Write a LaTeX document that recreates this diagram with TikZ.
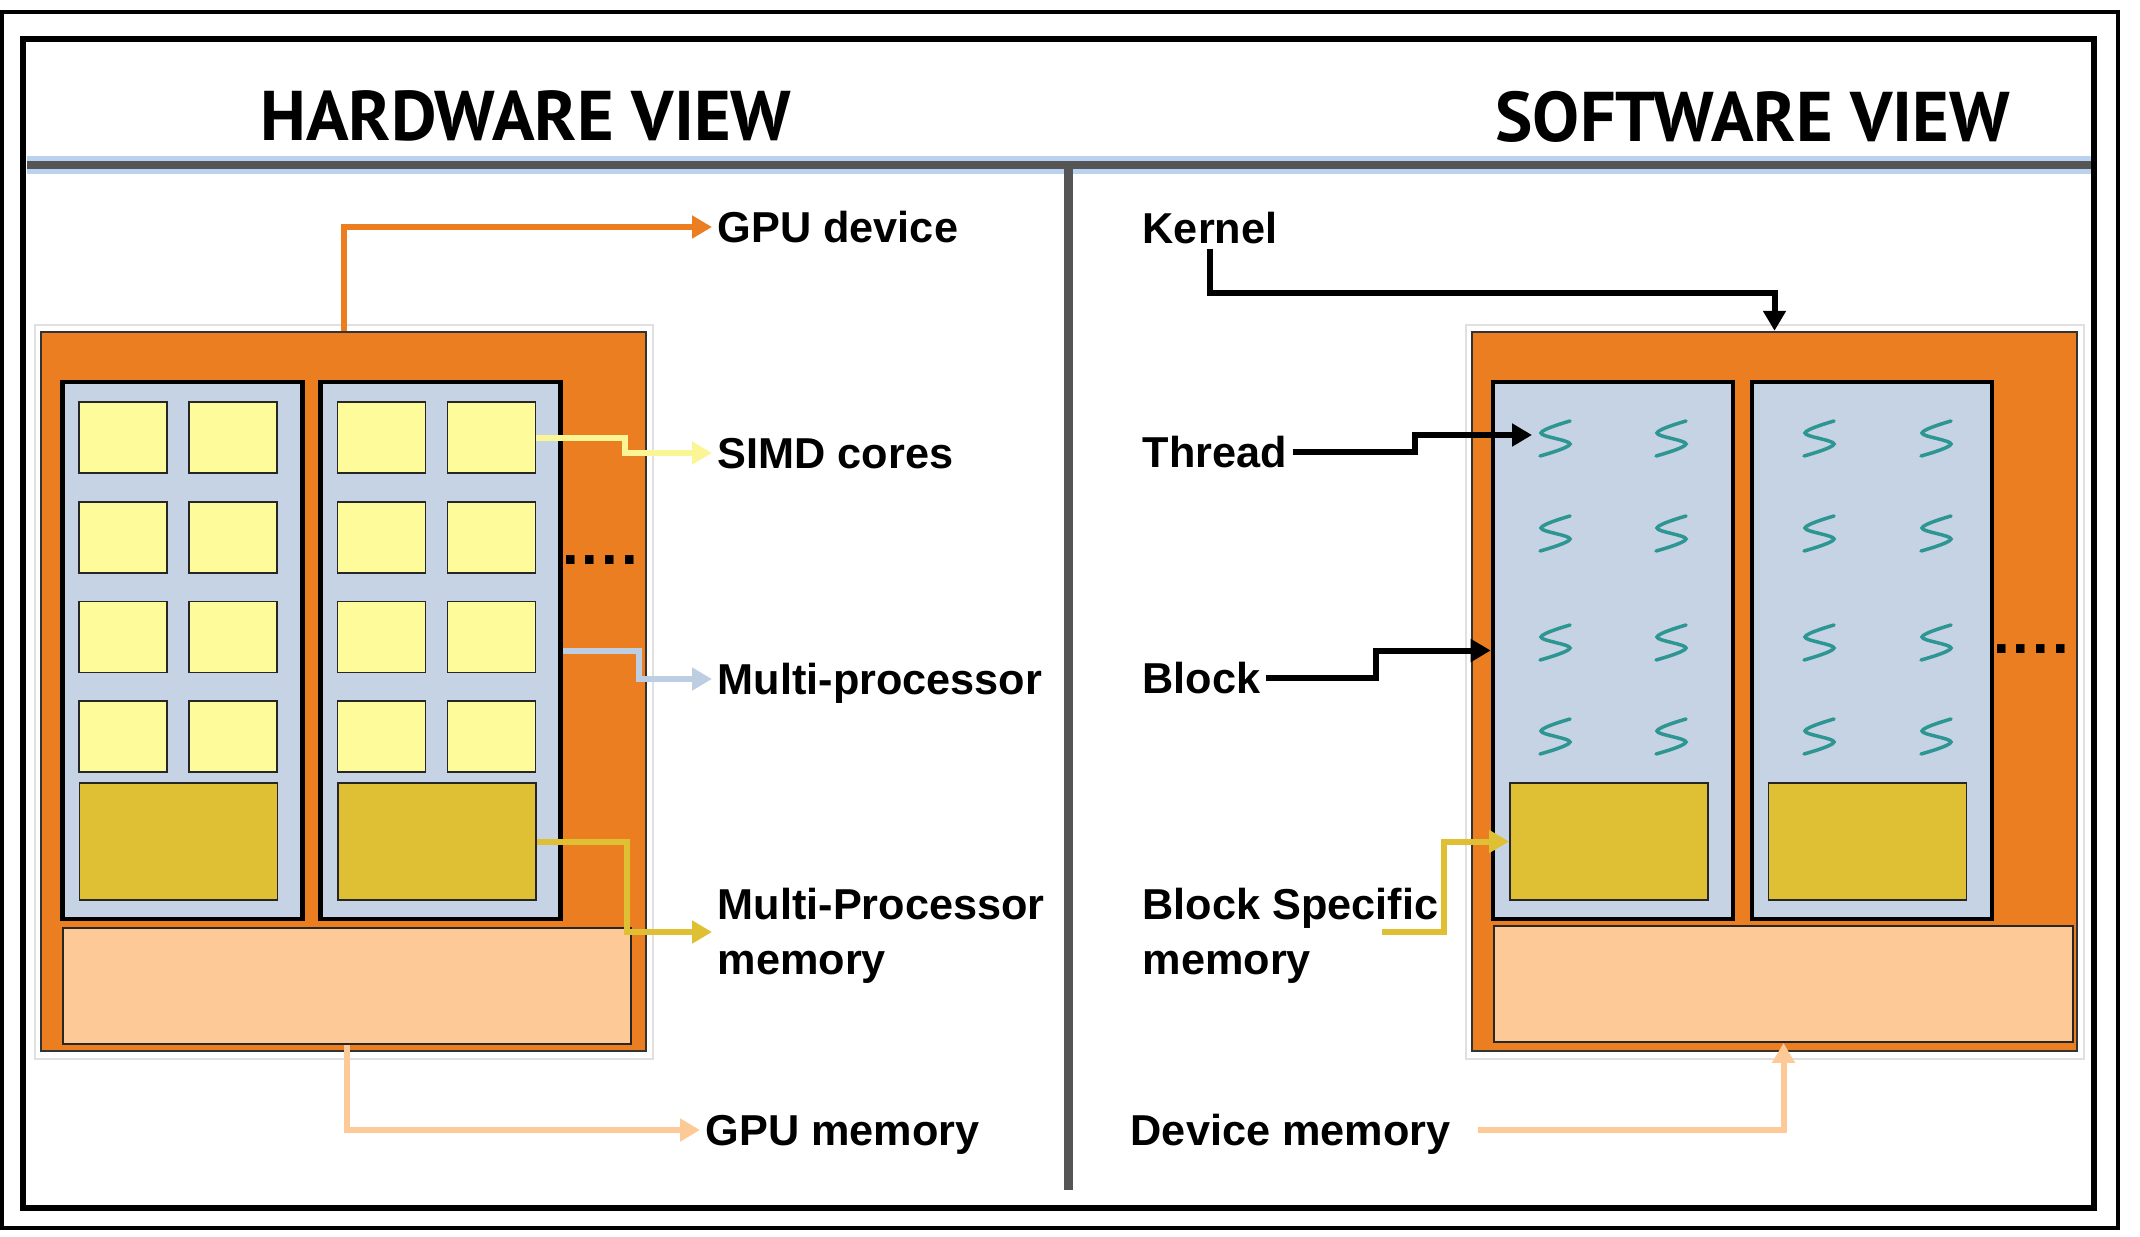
\documentclass[tikz,border=0pt]{standalone}
\usepackage{fontspec}
\setmainfont{Liberation Sans}
\newfontfamily\headfont{PT Sans}
\usetikzlibrary{arrows.meta}
\definecolor{gpuor}{RGB}{236,126,34}
\definecolor{mpblue}{RGB}{197,211,229}
\definecolor{coreyel}{RGB}{254,252,154}
\definecolor{shmgold}{RGB}{223,191,51}
\definecolor{gmempeach}{RGB}{253,202,151}
\definecolor{thrteal}{RGB}{46,150,146}
\definecolor{simdline}{RGB}{250,246,150}
\definecolor{mpline}{RGB}{190,206,226}
\definecolor{glow}{RGB}{141,180,226}
\definecolor{sepgray}{RGB}{85,85,85}
\begin{document}
\begin{tikzpicture}[x=0.01cm,y=-0.01cm,
  frame/.style={draw=black!12,fill=white,line width=0.015cm,inner sep=0pt,minimum width=6.18cm,minimum height=7.34cm},
  dev/.style={draw=black!80,fill=gpuor,line width=0.02cm,minimum width=6.05cm,minimum height=7.19cm,inner sep=0pt},
  mp/.style={draw=black,fill=mpblue,line width=0.045cm,minimum width=2.40cm,minimum height=5.37cm,inner sep=0pt},
  core/.style={draw=black!85,fill=coreyel,line width=0.018cm,minimum width=0.88cm,minimum height=0.71cm,inner sep=0pt},
  shm/.style={draw=black!85,fill=shmgold,line width=0.018cm,minimum width=1.98cm,minimum height=1.17cm,inner sep=0pt},
  gmem/.style={draw=black!85,fill=gmempeach,line width=0.018cm,minimum height=1.16cm,inner sep=0pt},
  lbl/.style={font=\bfseries\fontsize{12.3}{15.6}\selectfont,text height=0.30cm,text depth=0pt,inner sep=0.05cm,align=left},
  lbltwo/.style={lbl,text height=0.85cm},
  hdr/.style={font=\headfont\bfseries\fontsize{20}{24}\selectfont,inner sep=0pt},
  dots/.style={font=\bfseries\fontsize{17}{17}\selectfont,inner sep=0pt},
  conn/.style={line width=0.06cm,-{Triangle[length=0.2cm,width=0.22cm]}},
  thr/.pic={\draw[thrteal,line width=0.035cm,line cap=round] plot[smooth,tension=0.6] coordinates {(15,-17) (-14,-5) (15,6) (-15,18)};
    \coordinate (-w) at (-23,-3);}
]
\useasboundingbox (0,0) rectangle (2140,1236);

% hardware view
\node[frame] (hwfr) at (344,692) {};
\node[dev] (gpu) at (343.5,691.5) {};
\node[mp] (mp1) at (182.5,650.5) {};
\node[mp] (mp2) at (440.5,650.5) {};
\foreach \r/\y in {1/437.5,2/537.5,3/637,4/736.5}
  {\foreach \c/\x in {1/123,2/233,3/381.5,4/491.5}
    \node[core] (c\r\c) at (\x,\y) {};}
\node[shm] (shm1) at (178.5,841.5) {};
\node[shm] (shm2) at (437,841.5) {};
\node[gmem,minimum width=5.68cm] (gmem) at (347,986) {};
\node[dots,anchor=base] (hwdots) at (600,564) {.\kern0.03cm.\kern0.03cm.\kern0.03cm.};

\node[lbl,anchor=west] (gpul) at (712,227) {GPU device};
\node[lbl,anchor=west] (simdl) at (712,453) {SIMD cores};
\node[lbl,anchor=west] (mpl) at (712,679) {Multi-processor};
\node[lbltwo,anchor=west] (mpml) at (712,932) {Multi-Processor\\memory};
\node[lbl,anchor=west] (gmeml) at (700,1130) {GPU memory};

\draw[conn,gpuor] (gpu.north) |- (gpul.west);
\draw[conn,simdline] (c14.east) -- ++(89,0) |- (simdl.west);
\draw[conn,mpline] (mp2.east) -- ++(76,0) |- (mpl.west);
\draw[conn,shmgold] (shm2.east) -- ++(90,0) |- (mpml.west);
\draw[conn,gmempeach] (gmem.south) |- (gmeml.west);

% software view
\node[frame] (swfr) at (1775,692) {};
\node[dev] (kern) at (1774.5,691.5) {};
\node[mp] (blk1) at (1613,650.5) {};
\node[mp] (blk2) at (1872,650.5) {};
\foreach \r/\y in {1/438,2/533,3/642,4/736}
  {\foreach \c/\x in {1/1555,2/1671,3/1819,4/1936}
    \pic (t\r\c) at (\x,\y) {thr};}
\node[shm] (bshm1) at (1609,841.5) {};
\node[shm] (bshm2) at (1867.5,841.5) {};
\node[gmem,minimum width=5.79cm] (dmem) at (1783.5,984) {};
\node[dots,anchor=base] (swdots) at (2031,653) {.\kern0.03cm.\kern0.03cm.\kern0.03cm.};

\node[lbl,anchor=west] (kernl) at (1137,228) {Kernel};
\node[lbl,anchor=west] (thrl) at (1137,452) {Thread};
\node[lbl,anchor=west] (blkl) at (1137,678) {Block};
\node[lbltwo,anchor=west] (bsml) at (1137,932) {Block Specific\\memory};
\node[lbl,anchor=west] (dmeml) at (1125,1130) {Device memory};

\draw[conn] (kernl.south) -- ++(0,44) -| (kern.north);
\draw[conn] (thrl.east) -- ++(122,0) |- (t11-w);
\draw[conn] (blkl.east) -- ++(110,0) |- (blk1.west);
\draw[conn,shmgold] (bsml.east) ++(-62,0) -- (bsml.east) |- (bshm1.west);
\draw[conn,gmempeach] (dmeml.east) ++(22,0) -| (dmem.south);

% titles and separators
\node[hdr,anchor=base] (hwh) at (526,140) {HARDWARE VIEW};
\node[hdr,anchor=base] (swh) at (1753,141) {SOFTWARE VIEW};
\coordinate (sepl) at (27,165);
\coordinate (sepr) at (2094,165);
\coordinate (sept) at (1068,165);
\coordinate (sepb) at (1068,1190);
\draw[glow,opacity=0.6,line width=0.18cm] (sepl) -- (sepr);
\draw[sepgray,line width=0.075cm] (sepl) -- (sepr);
\draw[sepgray,line width=0.09cm] (sept) -- (sepb);

% borders
\draw[line width=0.045cm] (2,12) rectangle (2118,1228);
\draw[line width=0.065cm] (23,39) rectangle (2094,1208);
\end{tikzpicture}
\end{document}
